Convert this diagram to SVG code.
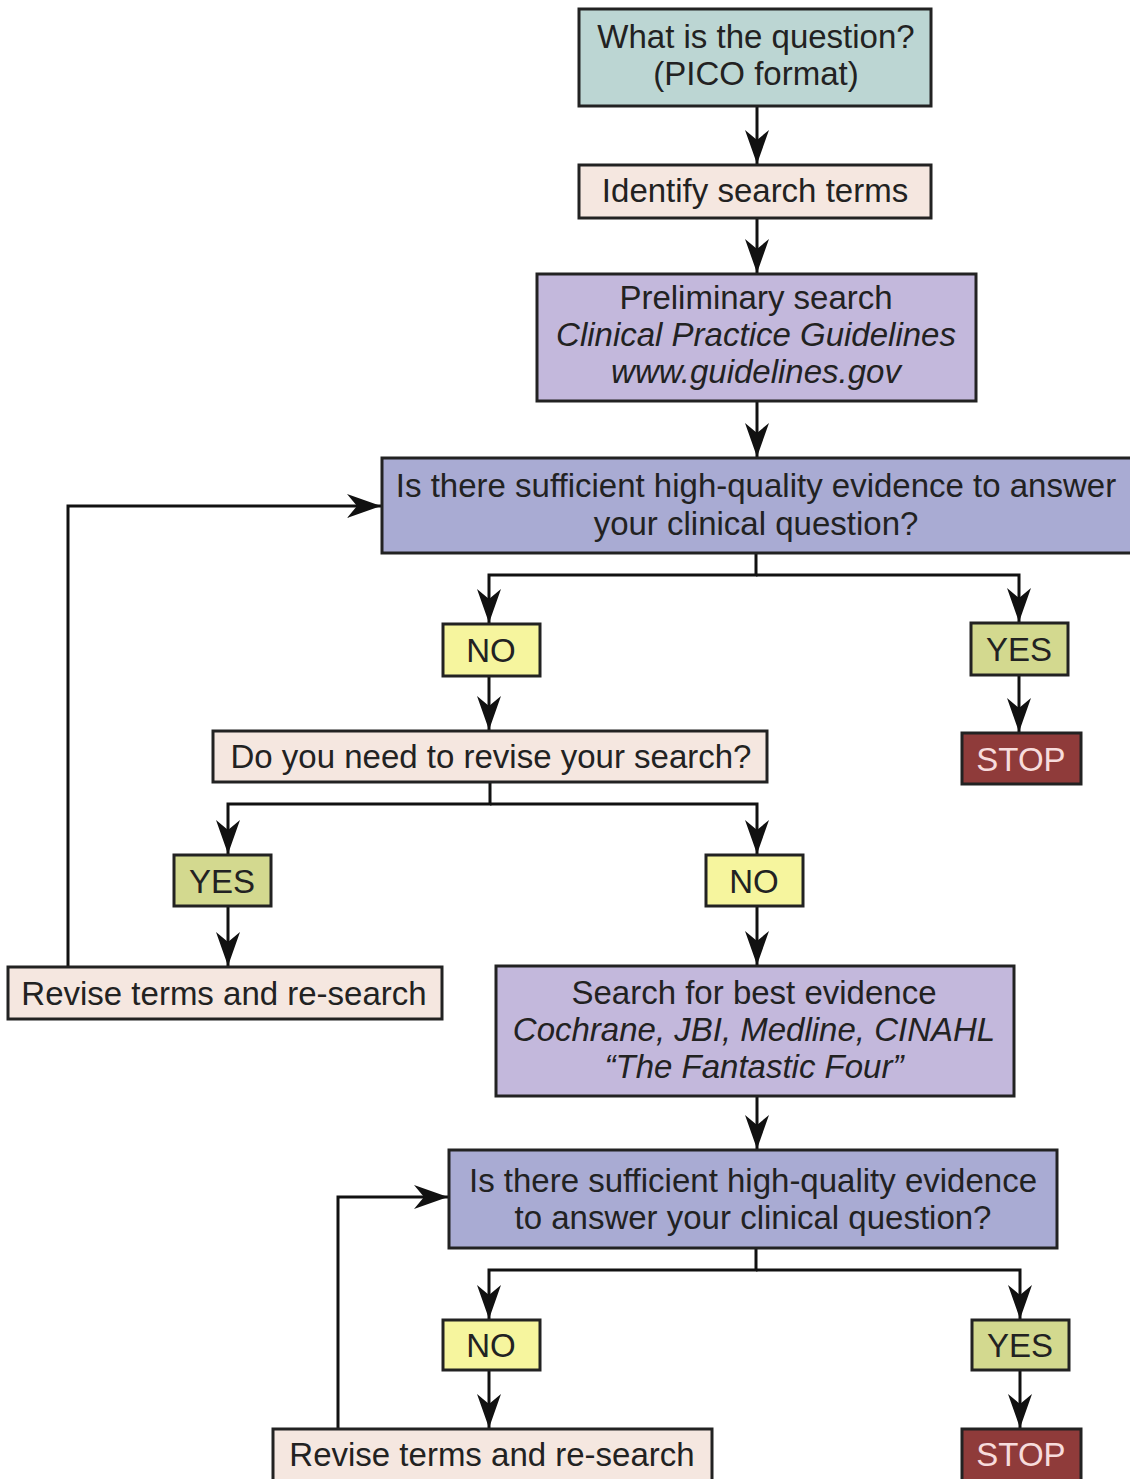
<svg xmlns="http://www.w3.org/2000/svg" width="1130" height="1479" viewBox="0 0 1130 1479">
<defs>
<marker id="ah" markerUnits="userSpaceOnUse" markerWidth="34" markerHeight="24" viewBox="0 0 34 24" refX="34" refY="12" orient="auto">
<path d="M0,0 L10,12 L0,24 L34,12 Z" fill="#111"/>
</marker>
</defs>
<style>
.n{stroke:#222;stroke-width:3}
.t{font-family:"Liberation Sans",Arial,sans-serif;font-size:33px;fill:#222;text-anchor:middle}
.i{font-style:italic}
.w{fill:#f7dcdc}
.c{fill:none;stroke:#111;stroke-width:3}
.teal{fill:#bcd6d3}
.peach{fill:#f5e7e0}
.purple{fill:#c3b8dc}
.blue{fill:#a9abd3}
.yel{fill:#f6f59e}
.olive{fill:#d3d98f}
.red{fill:#8f3b3a}
</style>
<rect width="1130" height="1479" fill="#ffffff"/>
<g id="connectors">
<line class="c" x1="757" y1="106" x2="757" y2="164" marker-end="url(#ah)"/>
<line class="c" x1="757" y1="218" x2="757" y2="273" marker-end="url(#ah)"/>
<line class="c" x1="757" y1="401" x2="757" y2="457" marker-end="url(#ah)"/>
<polyline class="c" points="756,553 756,575 489,575 489,623" marker-end="url(#ah)"/>
<polyline class="c" points="756,575 1019,575 1019,622" marker-end="url(#ah)"/>
<line class="c" x1="1019" y1="675" x2="1019" y2="732" marker-end="url(#ah)"/>
<line class="c" x1="489" y1="676" x2="489" y2="730" marker-end="url(#ah)"/>
<polyline class="c" points="490,782 490,804 228,804 228,854" marker-end="url(#ah)"/>
<polyline class="c" points="490,804 757,804 757,854" marker-end="url(#ah)"/>
<line class="c" x1="228" y1="906" x2="228" y2="966" marker-end="url(#ah)"/>
<line class="c" x1="757" y1="906" x2="757" y2="965" marker-end="url(#ah)"/>
<polyline class="c" points="68,967 68,506 381,506" marker-end="url(#ah)"/>
<line class="c" x1="757" y1="1096" x2="757" y2="1149" marker-end="url(#ah)"/>
<polyline class="c" points="756,1248 756,1270 489,1270 489,1319" marker-end="url(#ah)"/>
<polyline class="c" points="756,1270 1020,1270 1020,1319" marker-end="url(#ah)"/>
<line class="c" x1="489" y1="1370" x2="489" y2="1428" marker-end="url(#ah)"/>
<line class="c" x1="1020" y1="1370" x2="1020" y2="1428" marker-end="url(#ah)"/>
<polyline class="c" points="338,1429 338,1197 448,1197" marker-end="url(#ah)"/>
</g>
<g id="n1"><rect class="n teal" x="579" y="9" width="352" height="97"/>
<text class="t" x="756" y="48">What is the question?</text><text class="t" x="756" y="85">(PICO format)</text></g>
<g id="n2"><rect class="n peach" x="579" y="165" width="352" height="53"/>
<text class="t" x="755" y="202">Identify search terms</text></g>
<g id="n3"><rect class="n purple" x="537" y="274" width="439" height="127"/>
<text class="t" x="756" y="309">Preliminary search</text><text class="t i" x="756" y="346">Clinical Practice Guidelines</text><text class="t i" x="756" y="383">www.guidelines.gov</text></g>
<g id="n4"><rect class="n blue" x="382" y="458" width="760" height="95"/>
<text class="t" x="756" y="497">Is there sufficient high-quality evidence to answer</text><text class="t" x="756" y="535">your clinical question?</text></g>
<g id="no1"><rect class="n yel" x="443" y="624" width="97" height="52"/>
<text class="t" x="491" y="662">NO</text></g>
<g id="yes1"><rect class="n olive" x="971" y="623" width="97" height="52"/>
<text class="t" x="1019" y="661">YES</text></g>
<g id="stop1"><rect class="n red" x="962" y="733" width="119" height="51"/>
<text class="t w" x="1021" y="771">STOP</text></g>
<g id="n5"><rect class="n peach" x="213" y="731" width="554" height="51"/>
<text class="t" x="491" y="768">Do you need to revise your search?</text></g>
<g id="yes2"><rect class="n olive" x="174" y="855" width="97" height="51"/>
<text class="t" x="222" y="893">YES</text></g>
<g id="no2"><rect class="n yel" x="706" y="855" width="97" height="51"/>
<text class="t" x="754" y="893">NO</text></g>
<g id="n6"><rect class="n peach" x="8" y="967" width="434" height="52"/>
<text class="t" x="224" y="1005">Revise terms and re-search</text></g>
<g id="n7"><rect class="n purple" x="496" y="966" width="518" height="130"/>
<text class="t" x="754" y="1004">Search for best evidence</text><text class="t i" x="754" y="1041">Cochrane, JBI, Medline, CINAHL</text><text class="t i" x="754" y="1078">“The Fantastic Four”</text></g>
<g id="n8"><rect class="n blue" x="449" y="1150" width="608" height="98"/>
<text class="t" x="753" y="1192">Is there sufficient high-quality evidence</text><text class="t" x="753" y="1229">to answer your clinical question?</text></g>
<g id="no3"><rect class="n yel" x="443" y="1320" width="97" height="50"/>
<text class="t" x="491" y="1357">NO</text></g>
<g id="yes3"><rect class="n olive" x="972" y="1320" width="97" height="50"/>
<text class="t" x="1020" y="1357">YES</text></g>
<g id="n9"><rect class="n peach" x="273" y="1429" width="439" height="55"/>
<text class="t" x="492" y="1466">Revise terms and re-search</text></g>
<g id="stop2"><rect class="n red" x="962" y="1429" width="119" height="55"/>
<text class="t w" x="1021" y="1466">STOP</text></g>
</svg>
